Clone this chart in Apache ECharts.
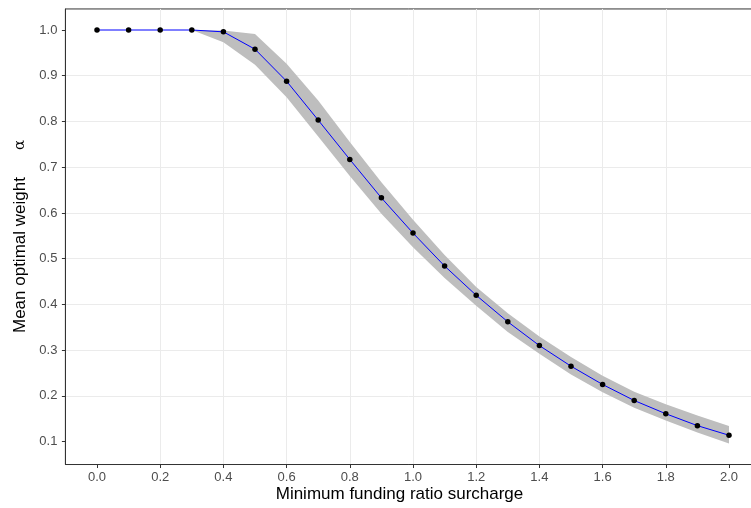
<!DOCTYPE html>
<html>
<head>
<meta charset="utf-8">
<title>Mean optimal weight vs minimum funding ratio surcharge</title>
<script src="https://cdn.jsdelivr.net/npm/echarts@6/dist/echarts.min.js"></script>
<style>
  html, body { margin: 0; padding: 0; background: #ffffff; }
  #chart { width: 751px; height: 508px; }
</style>
</head>
<body>
<div id="chart"></div>
<script>
// Minimum funding ratio surcharge (x) and the mean optimal weight alpha with its band
const surcharge = [0.0, 0.1, 0.2, 0.3, 0.4, 0.5, 0.6, 0.7, 0.8, 0.9, 1.0,
                   1.1, 1.2, 1.3, 1.4, 1.5, 1.6, 1.7, 1.8, 1.9, 2.0];
const meanWeight = [1.000, 1.000, 1.000, 1.000, 0.996, 0.958, 0.888, 0.803, 0.717, 0.633, 0.556,
                    0.484, 0.420, 0.362, 0.310, 0.265, 0.225, 0.190, 0.161, 0.135, 0.114];
const upperBand = [1.000, 1.000, 1.000, 1.000, 0.999, 0.991, 0.926, 0.846, 0.755, 0.667, 0.585,
                   0.508, 0.438, 0.381, 0.330, 0.285, 0.244, 0.209, 0.182, 0.157, 0.134];
const lowerBand = [1.000, 1.000, 1.000, 1.000, 0.973, 0.924, 0.853, 0.767, 0.681, 0.598, 0.525,
                   0.458, 0.397, 0.340, 0.292, 0.247, 0.208, 0.174, 0.146, 0.120, 0.096];
const xTicks = [0.0, 0.2, 0.4, 0.6, 0.8, 1.0, 1.2, 1.4, 1.6, 1.8, 2.0];
const yTicks = [0.1, 0.2, 0.3, 0.4, 0.5, 0.6, 0.7, 0.8, 0.9, 1.0];

const FONT = 'Liberation Sans, Arial, Helvetica, sans-serif';
const chart = echarts.init(document.getElementById('chart'), null, { renderer: 'canvas' });

// Pixel mapping: x = 0 -> 97px, 1 unit = 316px ; y = 1.0 -> 30px, 1 unit = 457.4px
const X0 = 97, XU = 316, Y1 = 30, YU = 457.4;
// panel limits (data range plus padding); grid lines sit halfway between labelled ticks
const panelMinX = -0.1, panelMaxX = 2.1, panelMinY = 0.05, panelMaxY = 1.046;

const option = {
  backgroundColor: '#ffffff',
  animation: false,
  grid: {
    left: X0 + panelMinX * XU,
    width: (panelMaxX - panelMinX) * XU,
    top: Y1 - (panelMaxY - 1) * YU,
    height: (panelMaxY - panelMinY) * YU,
    outerBoundsMode: 'none',
    show: true,
    backgroundColor: '#ffffff',
    borderColor: '#333333',
    borderWidth: 1,
    containLabel: false
  },
  xAxis: {
    type: 'value', min: panelMinX, max: panelMaxX, interval: 0.2,
    axisLine: { show: true, onZero: false, lineStyle: { color: '#333333', width: 1 } },
    axisTick: { show: true, customValues: xTicks, length: 3.5,
                lineStyle: { color: '#333333', width: 1 } },
    axisLabel: { show: true, customValues: xTicks, color: '#4d4d4d', fontSize: 13,
                 fontFamily: FONT, margin: 6, formatter: v => v.toFixed(1) },
    splitLine: { show: true, showMinLine: false, showMaxLine: false,
                 lineStyle: { color: '#ebebeb', width: 1 } }
  },
  yAxis: {
    type: 'value', min: panelMinY, max: panelMaxY, interval: 0.1,
    axisLine: { show: true, onZero: false, lineStyle: { color: '#333333', width: 1 } },
    axisTick: { show: true, customValues: yTicks, length: 3.5,
                lineStyle: { color: '#333333', width: 1 } },
    axisLabel: { show: true, customValues: yTicks, color: '#4d4d4d', fontSize: 13,
                 fontFamily: FONT, margin: 8, formatter: v => v.toFixed(1) },
    splitLine: { show: true, showMinLine: false, showMaxLine: false,
                 lineStyle: { color: '#ebebeb', width: 1 } }
  },
  series: [
    {
      // shaded band between lower and upper bounds
      type: 'custom',
      data: [0],
      silent: true,
      z: 1,
      renderItem: function (params, api) {
        const pts = [];
        for (let i = 0; i < surcharge.length; i++) pts.push(api.coord([surcharge[i], upperBand[i]]));
        for (let i = surcharge.length - 1; i >= 0; i--) pts.push(api.coord([surcharge[i], lowerBand[i]]));
        return { type: 'polygon', shape: { points: pts }, style: { fill: '#bebebe', stroke: null } };
      }
    },
    {
      type: 'line',
      data: surcharge.map((x, i) => [x, meanWeight[i]]),
      z: 3,
      symbol: 'circle',
      symbolSize: 5.5,
      showSymbol: true,
      itemStyle: { color: '#000000', borderWidth: 0 },
      lineStyle: { color: '#0000ff', width: 1 }
    }
  ],
  graphic: [
    {
      type: 'text',
      x: 399.5, y: 494,
      style: {
        text: 'Minimum funding ratio surcharge',
        font: '17px ' + FONT,
        fill: '#000000',
        align: 'center',
        verticalAlign: 'middle'
      }
    },
    {
      type: 'text',
      x: 20.5, y: 236.5,
      rotation: Math.PI / 2,
      style: {
        text: '{t|Mean optimal weight}{g|α}',
        rich: {
          t: { fontSize: 17, fontFamily: FONT, fill: '#000000' },
          g: { fontSize: 15, fontFamily: 'DejaVu Serif', fill: '#000000', padding: [0, 0, 0, 27] }
        },
        align: 'center',
        verticalAlign: 'middle'
      }
    }
  ]
};

chart.setOption(option);
</script>
</body>
</html>
